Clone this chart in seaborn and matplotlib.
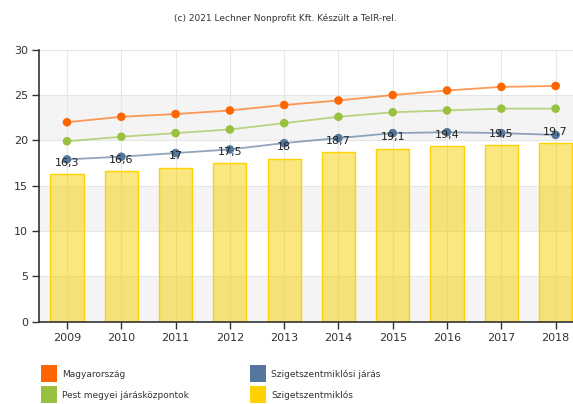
import matplotlib
matplotlib.use("Agg")
import matplotlib.pyplot as plt
from matplotlib.patches import Rectangle
import seaborn as sns
import numpy as np
import pandas as pd

years = ["2009", "2010", "2011", "2012", "2013", "2014", "2015", "2016", "2017", "2018"]
szigetszentmiklos = [16.3, 16.6, 17.0, 17.5, 18.0, 18.7, 19.1, 19.4, 19.5, 19.7]
bar_labels = ["16,3", "16,6", "17", "17,5", "18", "18,7", "19,1", "19,4", "19,5", "19,7"]
magyarorszag = [22.0, 22.6, 22.9, 23.3, 23.9, 24.4, 25.0, 25.5, 25.9, 26.0]
pest_jaraskozpontok = [19.9, 20.4, 20.8, 21.2, 21.9, 22.6, 23.1, 23.3, 23.5, 23.5]
szigetszentmiklosi_jaras = [17.9, 18.2, 18.6, 19.0, 19.7, 20.25, 20.8, 20.9, 20.8, 20.6]

series_names = ["Magyarország", "Szigetszentmiklósi járás", "Pest megyei járásközpontok", "Szigetszentmiklós"]
c_orange = "#ff6600"
c_blue = "#56779c"
c_green = "#99c140"
c_yellow = "#ffd200"

sns.set_theme(style="white")
plt.rcParams['font.family'] = ['DejaVu Sans']

fig = plt.figure(figsize=(5.73, 4.04), dpi=100)
ax = fig.add_axes([39/573, (404-321.7)/404, 1 - 39/573, (321.7-49.7)/404])

# background bands
for lo in (0, 10, 20):
    ax.axhspan(lo, lo + 5, color="#f4f4f4", zorder=0, lw=0)
for yv in range(0, 31, 5):
    ax.axhline(yv, color="#e6e6e6", lw=0.8, zorder=0.5)
x = np.arange(len(years))
for xv in x:
    ax.axvline(xv, color="#e6e6e6", lw=0.8, zorder=0.5)

df_bar = pd.DataFrame({"year": years, "value": szigetszentmiklos})
sns.barplot(data=df_bar, x="year", y="value", ax=ax, width=0.61,
            color=c_yellow, saturation=1, edgecolor=c_yellow,
            linewidth=1.0, zorder=2)
for p in ax.containers[0]:
    p.set_edgecolor(c_yellow)
    p.set_facecolor(matplotlib.colors.to_rgba("#f7d000", 0.5))

for vals, col in ((magyarorszag, c_orange), (pest_jaraskozpontok, c_green),
                  (szigetszentmiklosi_jaras, c_blue)):
    d = pd.DataFrame({"x": x, "y": vals})
    sns.lineplot(data=d, x="x", y="y", ax=ax, color=col, alpha=0.65, lw=1.3, zorder=3)
    ax.scatter(x, vals, s=38, color=col, zorder=4, edgecolors="none")

for xi, v, lab in zip(x, szigetszentmiklos, bar_labels):
    ax.annotate(lab, (xi, v), xytext=(0, 4.5), textcoords="offset points",
                ha="center", va="bottom", fontsize=8, color="#222222", zorder=5)

ax.set_xlim(-0.516, 9.32)
ax.set_ylim(0, 30)
ax.set_yticks(range(0, 31, 5))
ax.set_xticks(x)
ax.set_xticklabels(years)
ax.set_xlabel("")
ax.set_ylabel("")
ax.tick_params(axis="both", labelsize=8, colors="#333333", length=5, width=1, direction="out",
               left=True, bottom=True, pad=3)
for s in ("top", "right"):
    ax.spines[s].set_visible(False)
for s in ("left", "bottom"):
    ax.spines[s].set_color("#333333")
    ax.spines[s].set_linewidth(1.2)

fig.text(285/573, 1 - 18/404, "(c) 2021 Lechner Nonprofit Kft. Készült a TeIR-rel.",
         ha="center", va="center", fontsize=6.5, color="#333333")

legend_items = [
    (41, 365, c_orange, "Magyarország"),
    (250, 365, c_blue, "Szigetszentmiklósi járás"),
    (41, 386, c_green, "Pest megyei járásközpontok"),
    (250, 386, c_yellow, "Szigetszentmiklós"),
]
for lx, ly, col, lab in legend_items:
    fig.patches.append(Rectangle((lx/573, 1 - (ly+17)/404), 16/573, 17/404,
                                 transform=fig.transFigure, facecolor=col,
                                 edgecolor="none"))
    fig.text((lx+21)/573, 1 - (ly+9.5)/404, lab, ha="left", va="center",
             fontsize=6.5, color="#333333")

fig.savefig("out.png", dpi=100)
